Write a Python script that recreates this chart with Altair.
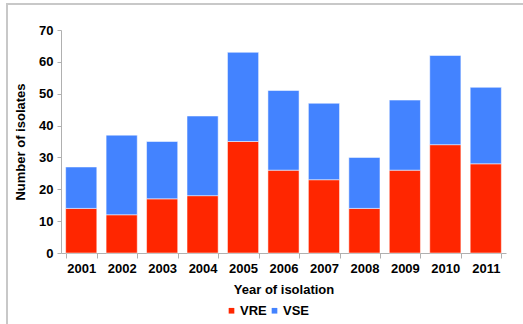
import altair as alt
import pandas as pd

# Isolates per year, split by vancomycin resistance
years = ["2001", "2002", "2003", "2004", "2005", "2006", "2007", "2008", "2009", "2010", "2011"]
vre = [14, 12, 17, 18, 35, 26, 23, 14, 26, 34, 28]
vse = [13, 25, 18, 25, 28, 25, 24, 16, 22, 28, 24]

groups = ["VRE", "VSE"]
colors = ["#FF2600", "#4383FF"]

rows = []
for y, r, s in zip(years, vre, vse):
    rows.append({"year": y, "type": "VRE", "count": r, "order": 0})
    rows.append({"year": y, "type": "VSE", "count": s, "order": 1})
df = pd.DataFrame(rows)

FONT = "Liberation Sans"

bars = alt.Chart(df).mark_bar(
    stroke="#ffffff", strokeOpacity=0.5, strokeWidth=1
).encode(
    x=alt.X("year:N", sort=years, title="Year of isolation",
            scale=alt.Scale(paddingInner=0.23, paddingOuter=0.115),
            axis=alt.Axis(labelAngle=0, tickBand="extent", tickSize=5,
                          labelPadding=4, titlePadding=8)),
    y=alt.Y("sum(count):Q", title="Number of isolates",
            scale=alt.Scale(domain=[0, 70]),
            axis=alt.Axis(values=list(range(0, 71, 10)), grid=False,
                          tickSize=4, labelPadding=4, titlePadding=11)),
    color=alt.Color("type:N", scale=alt.Scale(domain=groups, range=colors),
                    legend=alt.Legend(title=None, orient="none", direction="horizontal",
                                      legendX=164, legendY=274, symbolType="square",
                                      symbolSize=32, symbolStrokeWidth=0,
                                      labelFont=FONT, labelFontSize=13,
                                      labelFontWeight="bold", labelColor="#000",
                                      columnPadding=1, labelOffset=2)),
    order=alt.Order("order:Q"),
)

# thin grey frame along the top and left of the figure
frame_top = alt.Chart(df).mark_rule(color="#c8c8c8", strokeWidth=2).encode(
    x=alt.value(-55), x2=alt.value(470), y=alt.value(-26)
)
frame_left = alt.Chart(df).mark_rule(color="#c8c8c8", strokeWidth=2).encode(
    x=alt.value(-54), y=alt.value(-26), y2=alt.value(300)
)

chart = alt.layer(bars, frame_top, frame_left).properties(
    width=445, height=223,
    autosize=alt.AutoSizeParams(type="none"),
    padding={"left": 61, "top": 30, "right": 17, "bottom": 71},
).configure_view(
    stroke=None
).configure_axis(
    domainColor="#b0b0b0", tickColor="#b0b0b0",
    labelFont=FONT, labelFontSize=13, labelFontWeight="bold", labelColor="#000",
    titleFont=FONT, titleFontSize=13, titleFontWeight="bold", titleColor="#000",
)

chart.save("out.html", embed_options={"renderer": "svg", "actions": False})
